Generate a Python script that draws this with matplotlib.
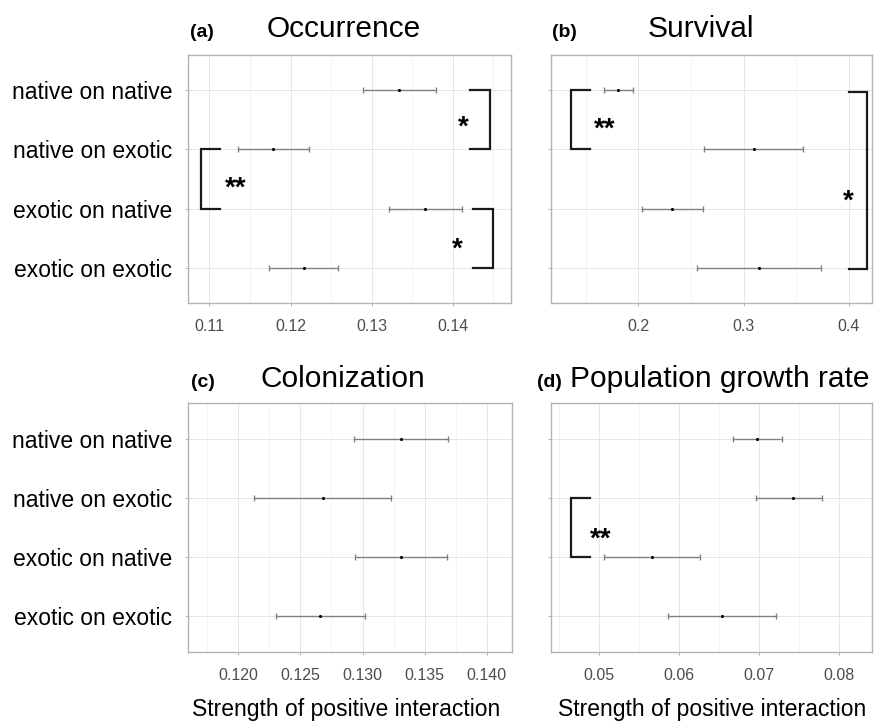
import matplotlib
matplotlib.use("Agg")
import matplotlib.pyplot as plt
import numpy as np
from matplotlib.ticker import MultipleLocator

plt.rcParams['font.family'] = ['Liberation Sans', 'DejaVu Sans']

categories = ["native on native", "native on exotic", "exotic on native", "exotic on exotic"]

occ_mean = [0.1334, 0.1179, 0.1366, 0.1216]
occ_low = [0.1289, 0.1135, 0.1321, 0.1174]
occ_high = [0.1379, 0.1223, 0.1411, 0.1259]

surv_mean = [0.1803, 0.3095, 0.2321, 0.3146]
surv_low = [0.1676, 0.2622, 0.2032, 0.2556]
surv_high = [0.1949, 0.3568, 0.2613, 0.3740]

col_mean = [0.1331, 0.1268, 0.1331, 0.1266]
col_low = [0.1293, 0.1213, 0.1294, 0.1230]
col_high = [0.1369, 0.1323, 0.1368, 0.1302]

pgr_mean = [0.0697, 0.0742, 0.0566, 0.0653]
pgr_low = [0.0667, 0.0696, 0.0506, 0.0586]
pgr_high = [0.0729, 0.0779, 0.0626, 0.0721]

panel_letters = ["(a)", "(b)", "(c)", "(d)"]
panel_titles = ["Occurrence", "Survival", "Colonization", "Population growth rate"]
xlabel_text = "Strength of positive interaction"

# brackets: (row_top, row_bottom, x_vertical, x_arm, label, label_x, label_row)
brackets_a = [(0, 1, 0.14453, 0.1421, "*", 0.1413, 0.53),
              (1, 2, 0.10897, 0.11132, "**", 0.1132, 1.57),
              (2, 3, 0.14494, 0.14247, "*", 0.1406, 2.60)]
brackets_b = [(0, 1, 0.1356, 0.1537, "**", 0.1676, 0.56),
              (0.03, 3.03, 0.4175, 0.4000, "*", 0.4000, 1.78)]
brackets_c = []
brackets_d = [(1, 2, 0.04645, 0.04883, "**", 0.0502, 1.60)]

W, H = 874, 722
fig = plt.figure(figsize=(W / 100, H / 100), dpi=100)

def px_axes(l, t, r, b):
    return fig.add_axes([l / W, 1 - b / H, (r - l) / W, (b - t) / H])

ax_a = px_axes(188, 55, 510.5, 303)
ax_b = px_axes(551, 55, 872, 303)
ax_c = px_axes(188, 403, 512, 652)
ax_d = px_axes(551, 403, 872, 652)

specs = [
    (ax_a, occ_mean, occ_low, occ_high, (0.10737, 0.1471), 0.01, brackets_a, "%.2f", True),
    (ax_b, surv_mean, surv_low, surv_high, (0.1168, 0.4222), 0.1, brackets_b, "%.1f", False),
    (ax_c, col_mean, col_low, col_high, (0.11595, 0.14203), 0.005, brackets_c, "%.3f", True),
    (ax_d, pgr_mean, pgr_low, pgr_high, (0.04398, 0.0841), 0.01, brackets_d, "%.2f", False),
]

ypos = np.arange(len(categories))
for ax, m, lo, hi, xlim, step, brs, fmt, showy in specs:
    m = np.array(m); lo = np.array(lo); hi = np.array(hi)
    ax.set_xlim(*xlim)
    ax.set_ylim(len(categories) - 0.4, -0.6)
    ax.xaxis.set_major_locator(MultipleLocator(step))
    ax.xaxis.set_minor_locator(MultipleLocator(step / 2))
    ax.xaxis.set_major_formatter(matplotlib.ticker.FormatStrFormatter(fmt))
    ax.set_yticks(ypos)
    if showy:
        ax.set_yticklabels(categories, fontsize=16.5, color="black")
    else:
        ax.set_yticklabels([])
    ax.grid(True, which="major", color="#e6e6e6", lw=0.7)
    ax.grid(True, which="minor", axis="x", color="#efefef", lw=0.5)
    ax.set_axisbelow(True)
    for s in ax.spines.values():
        s.set_color("#b3b3b3")
        s.set_linewidth(1.0)
    ax.tick_params(axis="both", which="major", length=2.5, width=0.7, color="#b3b3b3")
    ax.tick_params(axis="x", labelsize=11.5, labelcolor="#4d4d4d", pad=9)
    ax.tick_params(axis="y", pad=9)
    ax.tick_params(which="minor", length=0)
    ax.errorbar(m, ypos, xerr=[m - lo, hi - m], fmt="none", ecolor="#808080",
                elinewidth=1.0, capsize=2.5, capthick=1.0)
    ax.scatter(m, ypos, s=5, color="black", zorder=3, linewidths=0)
    for (r0, r1, xv, xa, lab, lx, ly) in brs:
        ax.plot([xa, xv, xv, xa], [r0, r0, r1, r1], color="#1a1a1a", lw=1.6,
                solid_joinstyle="miter", clip_on=False)
        ax.text(lx, ly + 0.1, lab, fontsize=20, ha="center", va="center",
                color="black", fontweight="bold")

# titles
title_specs = [
    (190, 37, 344, "center"),
    (552, 37, 701, "center"),
    (191, 387, 343, "center"),
    (537, 387, 570, "left"),
]
for (lx, by, tx, tha), let, tt in zip(title_specs, panel_letters, panel_titles):
    fig.text(lx / W, 1 - by / H, let, fontsize=14, fontweight="bold", ha="left", va="baseline")
    fig.text(tx / W, 1 - by / H, tt, fontsize=21.5, ha=tha, va="baseline")

fig.text(346 / W, 1 - 716 / H, xlabel_text, fontsize=16.5, ha="center", va="baseline")
fig.text(712 / W, 1 - 716 / H, xlabel_text, fontsize=16.5, ha="center", va="baseline")

fig.savefig("out.png", dpi=100)
